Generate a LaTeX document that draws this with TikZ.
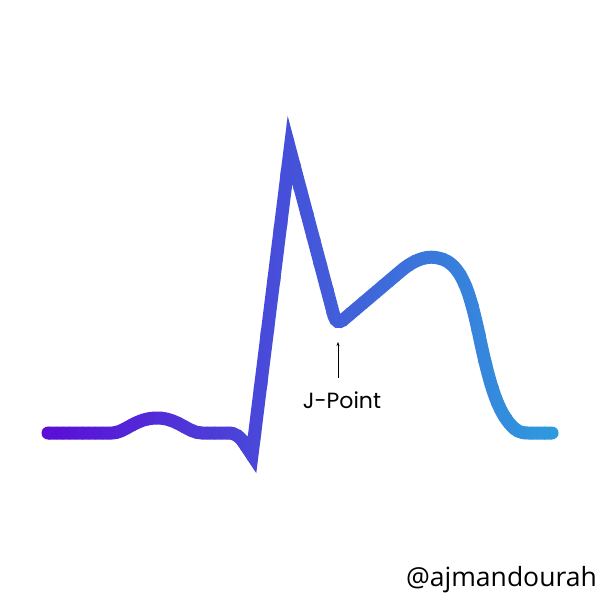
\documentclass[tikz,border=0pt]{standalone}
\usepackage{fontspec}
\setmainfont{Poppins}
\newfontfamily\tagfont{Open Sans}
\usetikzlibrary{arrows.meta}
\definecolor{cL}{RGB}{92,12,214}
\definecolor{cR}{RGB}{46,156,221}
\def\ecgpath{(48,433) -- (112,433)
 .. controls (125,433) and (135,418) .. (157,418)
 .. controls (178,418) and (188,433) .. (202,433)
 -- (228,433)
 .. controls (236,433) and (240,437) .. (244,443)
 -- (252,455)
 -- (290,150)
 -- (334,316)
 .. controls (336,322) and (339,323) .. (343,320)
 -- (402,270)
 .. controls (418,257) and (430,256) .. (438,258)
 .. controls (462,262) and (470,295) .. (478,330)
 .. controls (488,378) and (496,408) .. (510,424)
 .. controls (516,431) and (520,433) .. (528,433)
 -- (552,433)}
\tikzset{ecg/.style={line width=13pt, line join=miter, miter limit=10, line cap=round}}
\begin{document}
\begin{tikzpicture}[x=1pt,y=-1pt]
\useasboundingbox (0,0) rectangle (600,600);
\foreach \i in {0,...,79}{
  \pgfmathsetmacro\xa{36+\i*6.6}
  \pgfmathsetmacro\xb{\xa+7.2}
  \pgfmathsetmacro\t{100*\i/79}
  \begin{scope}
    \clip (\xa,80) rectangle (\xb,500);
    \draw[ecg, draw=cR!\t!cL] \ecgpath;
  \end{scope}
}
\node (jp) at (342,400) {\fontsize{22}{26}\selectfont J-Point};
\coordinate (jtip) at (338,342);
\draw[line width=0.9pt, -{Stealth[length=4pt,width=3pt]}] (338,378) -- (jtip);
\node[anchor=south east, inner sep=0pt] (tag) at (597,593) {\tagfont\fontsize{26.5}{30}\selectfont @ajmandourah};
\end{tikzpicture}
\end{document}
